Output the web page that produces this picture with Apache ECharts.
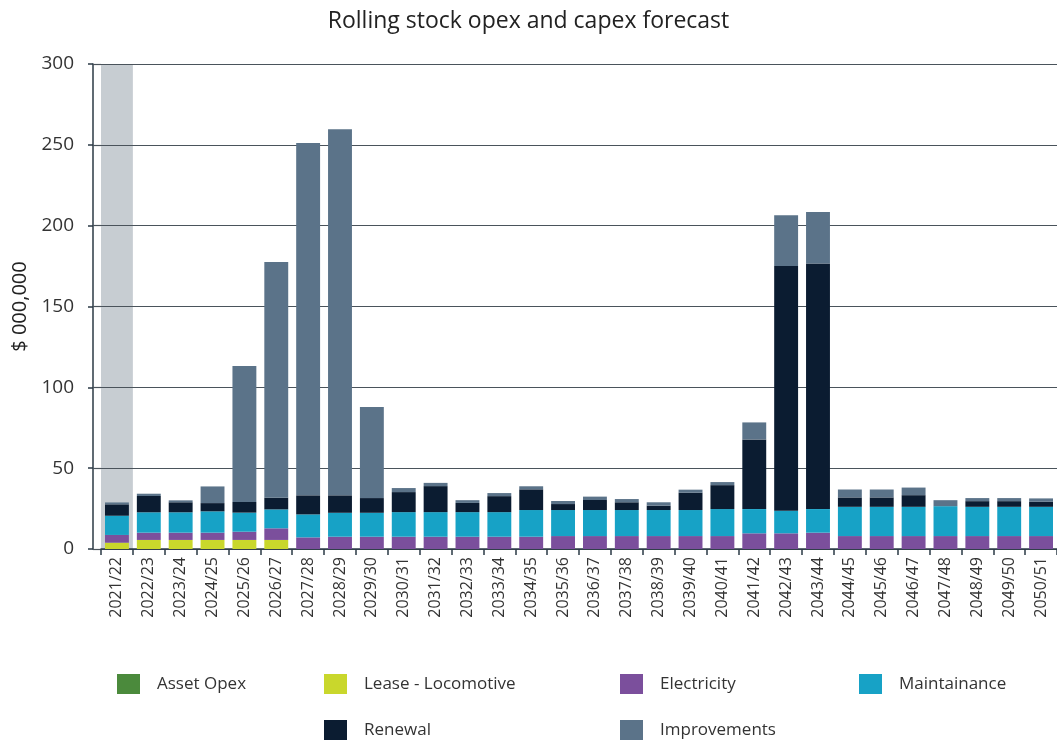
<!DOCTYPE html>
<html>
<head>
<meta charset="utf-8">
<script src="https://cdn.jsdelivr.net/npm/echarts@6/dist/echarts.min.js"></script>
<style>
  html, body { margin: 0; padding: 0; background: #ffffff; }
  #chart { width: 1057px; height: 740px; }
</style>
</head>
<body>
<div id="chart"></div>
<script>
// Financial years on the category axis
const categories = [
  '2021/22','2022/23','2023/24','2024/25','2025/26','2026/27','2027/28','2028/29','2029/30','2030/31',
  '2031/32','2032/33','2033/34','2034/35','2035/36','2036/37','2037/38','2038/39','2039/40','2040/41',
  '2041/42','2042/43','2043/44','2044/45','2045/46','2046/47','2047/48','2048/49','2049/50','2050/51'
];

// Cost components, $ 000,000 per year (stacked bottom to top)
const assetOpex = [
  0, 0, 0, 0, 0, 0, 0, 0, 0, 0,
  0, 0, 0, 0, 0, 0, 0, 0, 0, 0,
  0, 0, 0, 0, 0, 0, 0, 0, 0, 0
];
const leaseLocomotive = [
  3.9, 5.6, 5.6, 5.6, 5.6, 5.6, 0, 0, 0, 0,
  0, 0, 0, 0, 0, 0, 0, 0, 0, 0,
  0, 0, 0, 0, 0, 0, 0, 0, 0, 0
];
const electricity = [
  4.8, 4.5, 4.5, 4.5, 5.1, 7.2, 7.2, 7.6, 7.6, 7.6,
  7.6, 7.6, 7.6, 7.6, 8.0, 8.0, 8.0, 8.0, 8.0, 8.0,
  9.7, 9.7, 10.1, 8.0, 8.0, 8.0, 8.0, 8.0, 8.0, 8.0
];
const maintainance = [
  11.9, 12.6, 12.6, 13.2, 11.8, 11.7, 14.2, 14.8, 14.8, 15.2,
  15.2, 15.2, 15.2, 16.5, 16.1, 16.1, 16.1, 16.1, 16.1, 16.7,
  15.0, 14.0, 14.6, 18.1, 18.1, 18.1, 18.5, 18.1, 18.1, 18.1
];
const renewal = [
  7.0, 10.1, 6.2, 5.1, 6.6, 7.2, 11.8, 10.8, 9.1, 12.4,
  16.1, 5.7, 9.9, 12.8, 3.7, 6.2, 4.8, 2.7, 10.7, 14.8,
  43.1, 151.3, 151.9, 5.8, 5.8, 7.2, 0, 3.5, 3.5, 3.1
];
const improvements = [
  1.2, 1.4, 1.2, 10.3, 84.1, 145.8, 217.9, 226.5, 56.3, 2.5,
  2.0, 1.7, 1.9, 1.9, 1.9, 2.1, 2.0, 2.1, 1.9, 1.9,
  10.5, 31.4, 31.9, 4.9, 4.9, 4.7, 3.7, 1.9, 1.9, 2.1
];

// Value axis ticks
const yMin = 0;
const yMax = 300;
const yStep = 50;

// Year(s) highlighted with a grey background band
const shadedYears = ['2021/22'];

const FONT = 'Open Sans';
const INK = '#333333';
const AXIS = '#2b3a45';
const GRID = '#4a535b';

const seriesDefs = [
  { name: 'Asset Opex',         data: assetOpex,       color: '#4b8a3c' },
  { name: 'Lease - Locomotive', data: leaseLocomotive, color: '#c9d72c' },
  { name: 'Electricity',        data: electricity,     color: '#7b4f9c' },
  { name: 'Maintainance',       data: maintainance,    color: '#17a2c6' },
  { name: 'Renewal',            data: renewal,         color: '#0b1c31' },
  { name: 'Improvements',       data: improvements,    color: '#5b7389' }
];

// Legend laid out as a 4-column, 2-row block
const legendSlots = [
  { name: 'Asset Opex',         left: 117, top: 674 },
  { name: 'Lease - Locomotive', left: 324, top: 674 },
  { name: 'Electricity',        left: 620, top: 674 },
  { name: 'Maintainance',       left: 859, top: 674 },
  { name: 'Renewal',            left: 324, top: 720 },
  { name: 'Improvements',       left: 620, top: 720 }
];

const chart = echarts.init(document.getElementById('chart'), null, { renderer: 'canvas' });

const series = [
  {
    name: 'shade',
    type: 'bar',
    xAxisIndex: 1,
    yAxisIndex: 0,
    barWidth: '100%',
    silent: true,
    z: -1,
    itemStyle: { color: '#c7cdd2' },
    data: categories.map(c => shadedYears.includes(c) ? yMax : null)
  }
].concat(seriesDefs.map(s => ({
  name: s.name,
  type: 'bar',
  stack: 'total',
  xAxisIndex: 0,
  yAxisIndex: 0,
  barCategoryGap: '25%',
  itemStyle: { color: s.color },
  emphasis: { disabled: true },
  data: s.data
})));

chart.setOption({
  animation: false,
  backgroundColor: '#ffffff',
  textStyle: { fontFamily: FONT },
  title: {
    text: 'Rolling stock opex and capex forecast',
    left: 'center',
    top: 5,
    textStyle: { fontFamily: FONT, fontSize: 23, fontWeight: 'normal', color: '#222222' }
  },
  legend: legendSlots.map(l => ({
    data: [{ name: l.name, icon: 'rect' }],
    left: l.left,
    top: l.top,
    padding: 0,
    itemWidth: 23,
    itemHeight: 20,
    itemStyle: { borderWidth: 0 },
    selectedMode: false,
    textStyle: { fontFamily: FONT, fontSize: 17, color: INK, padding: [0, 0, 0, 12] }
  })),
  grid: { left: 101, top: 64, width: 959, height: 485, containLabel: false },
  xAxis: [
    {
      type: 'category',
      data: categories,
      boundaryGap: true,
      axisLine: { lineStyle: { color: AXIS, width: 1.5 } },
      axisTick: { show: true, interval: 0, length: 6, lineStyle: { color: AXIS, width: 1.5 } },
      axisLabel: { interval: 0, rotate: 90, fontSize: 16, color: INK, margin: 8, fontFamily: FONT },
      splitLine: { show: false }
    },
    {
      type: 'category',
      data: categories,
      show: false
    }
  ],
  yAxis: [
    {
      type: 'value',
      min: yMin,
      max: yMax,
      interval: yStep,
      offset: 8,
      name: '$ 000,000',
      nameLocation: 'middle',
      nameRotate: 90,
      nameGap: 62,
      nameTextStyle: { fontFamily: FONT, fontSize: 20, color: '#222222' },
      axisLine: { show: true, lineStyle: { color: AXIS, width: 1.5 } },
      axisTick: { show: true, length: 5, lineStyle: { color: AXIS, width: 1.5 } },
      axisLabel: { fontSize: 19, color: INK, margin: 19, fontFamily: FONT },
      splitLine: { show: true, lineStyle: { color: GRID, width: 1.2 } }
    },
    {
      // short inner ticks joining the grid lines to the offset axis line
      type: 'value',
      min: yMin,
      max: yMax,
      interval: yStep,
      offset: 8,
      position: 'left',
      axisLine: { show: false },
      axisLabel: { show: false },
      splitLine: { show: false },
      axisTick: { show: true, inside: true, length: 8, lineStyle: { color: GRID, width: 1.2 } }
    }
  ],
  series: series
});
</script>
</body>
</html>
